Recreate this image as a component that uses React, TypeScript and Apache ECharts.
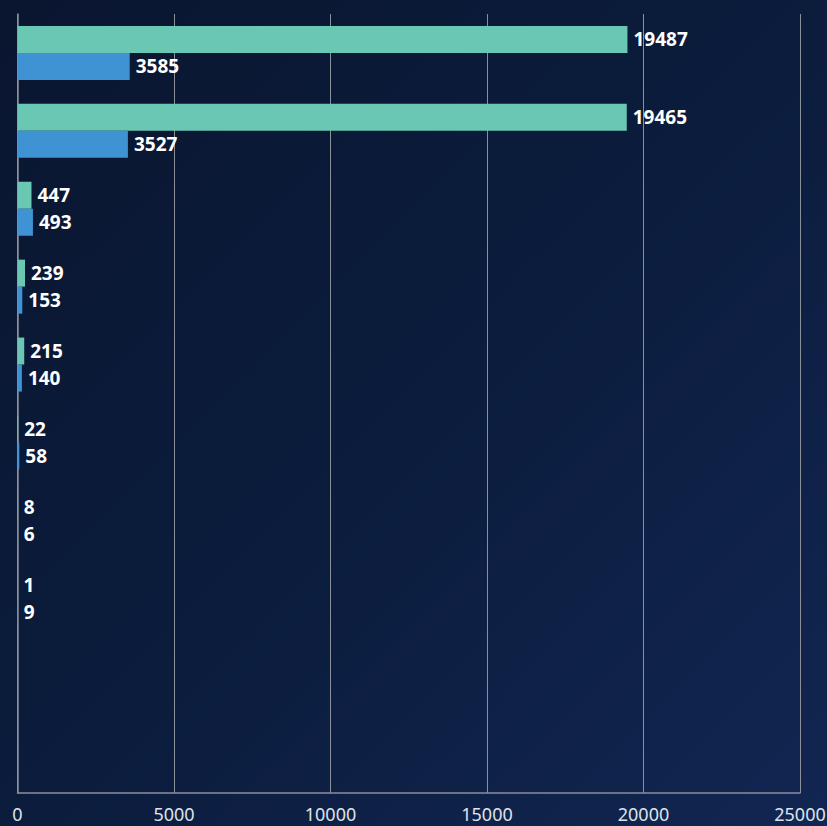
import React, { useEffect, useRef } from "react";
import * as echarts from "echarts";

const categories = ["C1", "C2", "C3", "C4", "C5", "C6", "C7", "C8", "C9", "C10"];
const seriesA: (number | string)[] = [19487, 19465, 447, 239, 215, 22, 8, 1, "-", "-"];
const seriesB: (number | string)[] = [3585, 3527, 493, 153, 140, 58, 6, 9, "-", "-"];
const xTicks = { min: 0, max: 25000, interval: 5000 };

export default function App() {
  const ref = useRef<HTMLDivElement>(null);
  useEffect(() => {
    document.body.style.margin = "0";
    const chart = echarts.init(ref.current!, null, { renderer: "svg" });
    const label = {
      show: true,
      position: "right" as const,
      distance: 6,
      color: "#ffffff",
      fontSize: 19,
      fontWeight: "bold" as const,
      fontFamily: "Noto Sans",
    };
    chart.setOption({
      animation: false,
      backgroundColor: new echarts.graphic.LinearGradient(0, 0, 1, 1, [
        { offset: 0, color: "#0a1630" },
        { offset: 0.5, color: "#0b1c3c" },
        { offset: 1, color: "#122652" },
      ]),
      grid: {
        left: 17.5,
        right: 27,
        top: 14,
        bottom: 33,
        containLabel: false,
        outerBoundsMode: "none",
      },
      xAxis: {
        type: "value",
        min: xTicks.min,
        max: xTicks.max,
        interval: xTicks.interval,
        axisLine: { show: true, lineStyle: { color: "#8a8f99", width: 1.5 } },
        axisTick: { show: false },
        splitLine: { show: true, lineStyle: { color: "#8a8f99", width: 1 } },
        axisLabel: {
          color: "#dfe3ea",
          fontSize: 18,
          fontFamily: "Noto Sans",
          margin: 12,
          formatter: (v: number) => String(v),
        },
      },
      yAxis: {
        type: "category",
        data: categories,
        inverse: true,
        axisLine: { show: true, lineStyle: { color: "#8a8f99", width: 1.5 } },
        axisTick: { show: false },
        axisLabel: { show: false },
        splitLine: { show: false },
      },
      series: [
        {
          type: "bar",
          data: seriesA,
          barWidth: 27,
          barGap: "0%",
          itemStyle: { color: "#6ac7b3" },
          label,
        },
        {
          type: "bar",
          data: seriesB,
          barWidth: 27,
          barGap: "0%",
          itemStyle: { color: "#4093d3" },
          label,
        },
      ],
    });
    return () => chart.dispose();
  }, []);
  return (
    <div
      ref={ref}
      style={{ position: "absolute", left: 0, top: 0, width: 827, height: 826 }}
    />
  );
}
